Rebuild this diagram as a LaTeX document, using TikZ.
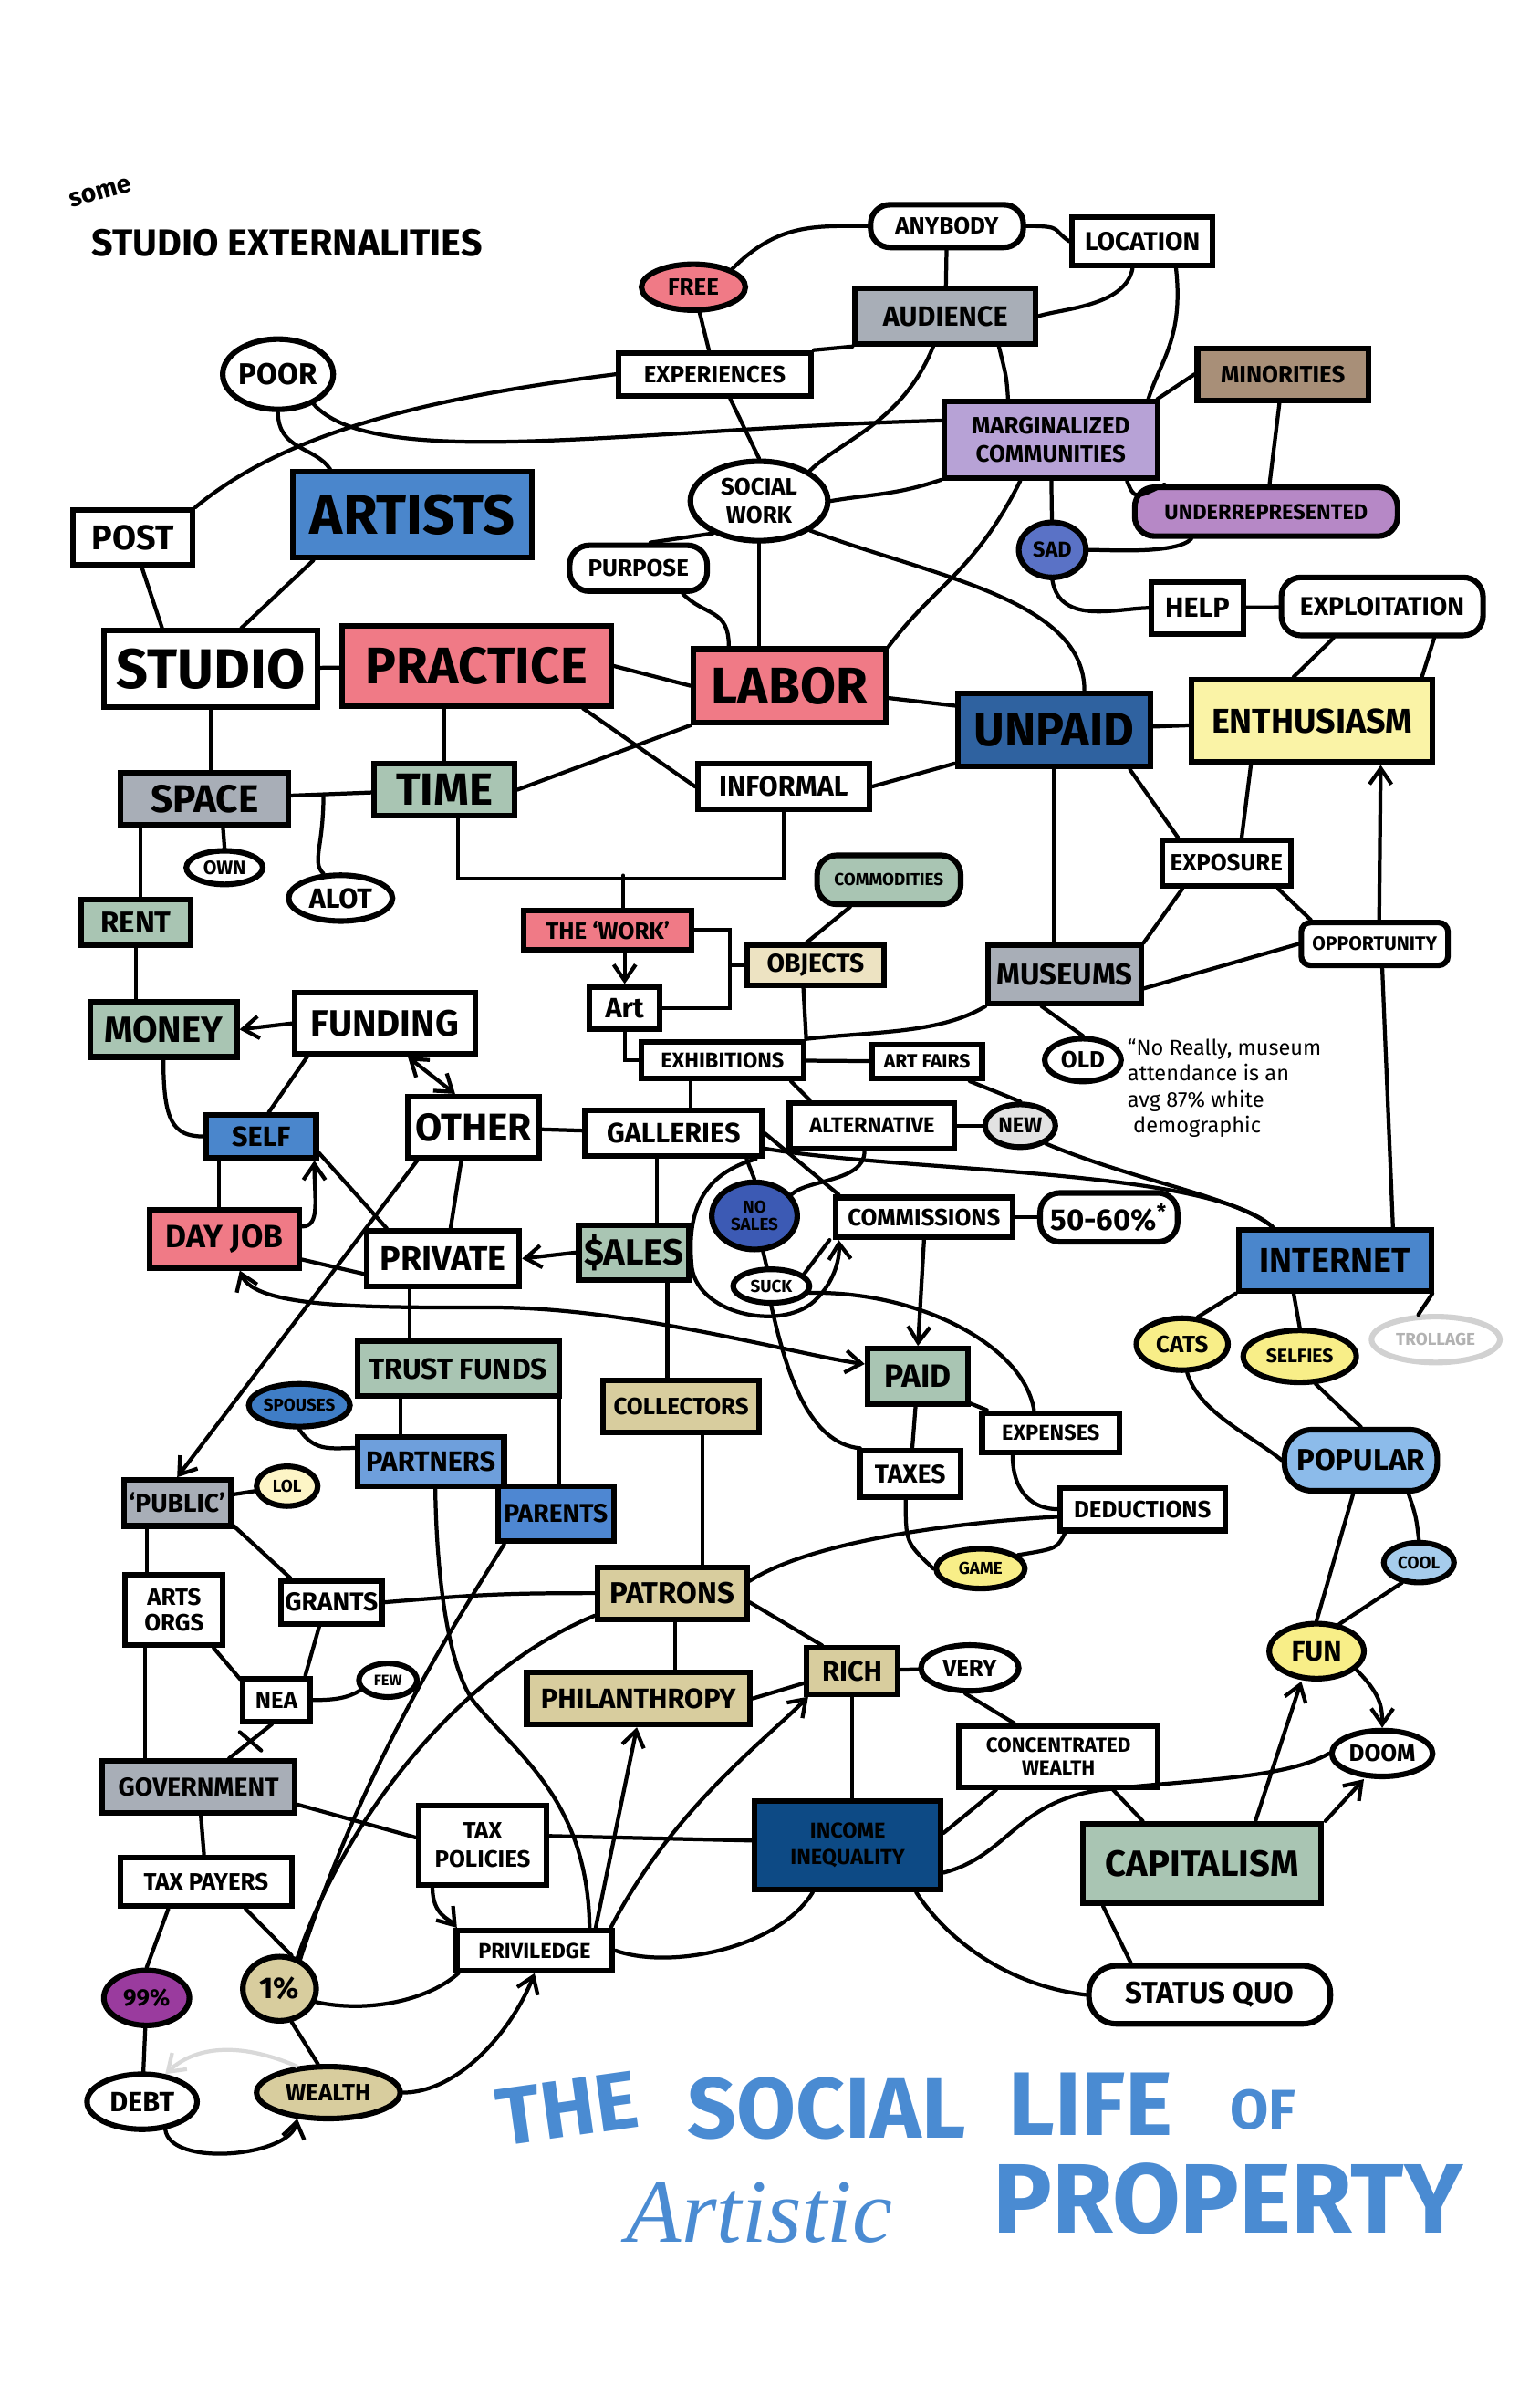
\documentclass[tikz,border=0pt]{standalone}
\usepackage{fontspec}
\setmainfont{Fira Sans}
\newfontfamily\handfont{Liberation Serif}
\usetikzlibrary{shapes.geometric, arrows.meta, calc}

\definecolor{redfill}{HTML}{F07A86}
\definecolor{artblue}{HTML}{4A86CC}
\definecolor{navy}{HTML}{2F62A0}
\definecolor{deepnavy}{HTML}{0D4A85}
\definecolor{greyfill}{HTML}{A8AEB7}
\definecolor{sage}{HTML}{A9C5B3}
\definecolor{tan}{HTML}{D8CD9E}
\definecolor{beige}{HTML}{EDE3C2}
\definecolor{enthus}{HTML}{FAF3A6}
\definecolor{yell}{HTML}{F8EE88}
\definecolor{lilac}{HTML}{B7A2D6}
\definecolor{mauve}{HTML}{B688C6}
\definecolor{brownfill}{HTML}{A88F78}
\definecolor{sadblue}{HTML}{5A72C6}
\definecolor{nosalesblue}{HTML}{3C5AB4}
\definecolor{spouseblue}{HTML}{3F7DC6}
\definecolor{partnerblue}{HTML}{6E9FDC}
\definecolor{parentblue}{HTML}{4E87D2}
\definecolor{popblue}{HTML}{8CBBEA}
\definecolor{coolblue}{HTML}{A6CCEC}
\definecolor{lolyellow}{HTML}{FDF5C6}
\definecolor{newgrey}{HTML}{E2E2E2}
\definecolor{purplefill}{HTML}{9A3B9E}
\definecolor{titleblue}{HTML}{4A8BD2}

\begin{document}
\begin{tikzpicture}[
        x=0.025cm, y=-0.025cm,
        box/.style={draw, rectangle, line width=2.6pt, align=center, inner sep=1pt},
        pill/.style={draw, rectangle, rounded corners=3.2mm, line width=2.6pt, align=center, inner sep=1pt},
        blob/.style={draw, ellipse, line width=2.6pt, align=center, inner sep=0pt},
        sz/.style 2 args={minimum width=#1*0.25mm, minimum height=#2*0.25mm},
        txt/.style={font=\fontsize{#1}{#1}\selectfont\bfseries},
        link/.style={line width=1.8pt, line cap=round},
        arrow/.style={link, -{Straight Barb[length=2.6mm, width=3.6mm]}},
        dblarrow/.style={link, {Straight Barb[length=2.6mm, width=3.6mm]}-{Straight Barb[length=2.6mm, width=3.6mm]}},
        heading/.style={text=titleblue, inner sep=0pt}
    ]
    \useasboundingbox (0,0) rectangle (1008,1568);

    % ===== heading =====
    \node (some) [txt=12, rotate=15, inner sep=0pt] at (66,126) {some};
    \node (subtitle) [txt=17.5, anchor=west, inner sep=0pt] at (60,159) {STUDIO EXTERNALITIES};

    % ===== top: audience =====
    \node (anybody) [pill, sz={100}{28}, txt=11] at (620,148) {ANYBODY};
    \node (location) [box, sz={92}{32}, txt=12] at (748,158) {LOCATION};
    \node (free) [blob, fill=redfill, sz={68}{30}, txt=11] at (454,188) {FREE};
    \node (audience) [box, fill=greyfill, sz={118}{36}, txt=13] at (619,207) {AUDIENCE};
    \node (experiences) [box, sz={126}{28}, txt=11] at (468,245) {EXPERIENCES};
    \node (minorities) [box, fill=brownfill, sz={112}{34}, txt=11] at (840,245) {MINORITIES};
    \node (poor) [blob, sz={68}{46}, txt=14] at (182,245) {POOR};
    \node (marginalized) [box, fill=lilac, sz={140}{50}, txt=11] at (688,288) {MARGINALIZED\\[2pt]COMMUNITIES};
    \node (socialwork) [blob, sz={90}{52}, txt=11] at (497,328) {SOCIAL\\[2pt]WORK};
    \node (artists) [box, fill=artblue, sz={156}{56}, txt=26] at (270,337) {ARTISTS};
    \node (post) [box, sz={78}{36}, txt=16] at (87,352) {POST};
    \node (underrep) [pill, fill=mauve, sz={172}{32}, txt=10] at (829,335) {UNDERREPRESENTED};
    \node (sad) [blob, fill=sadblue, sz={44}{36}, txt=10] at (689,360) {SAD};
    \node (purpose) [pill, sz={90}{30}, txt=11] at (418,372) {PURPOSE};
    \node (help) [box, sz={60}{34}, txt=13] at (784,398) {HELP};
    \node (exploitation) [pill, sz={132}{38}, txt=12] at (905,397) {EXPLOITATION};

    % ===== middle band =====
    \node (studio) [box, sz={140}{50}, txt=26] at (138,438) {STUDIO};
    \node (practice) [box, fill=redfill, sz={176}{52}, txt=24] at (312,436) {PRACTICE};
    \node (labor) [box, fill=redfill, sz={126}{48}, txt=24] at (517,449) {LABOR};
    \node (unpaid) [box, fill=navy, sz={126}{48}, txt=22] at (690,478) {UNPAID};
    \node (enthusiasm) [box, fill=enthus, sz={158}{54}, txt=16] at (859,472) {ENTHUSIASM};
    \node (space) [box, fill=greyfill, sz={110}{34}, txt=18] at (134,523) {SPACE};
    \node (time) [box, fill=sage, sz={92}{34}, txt=21] at (291,517) {TIME};
    \node (informal) [box, sz={112}{30}, txt=13] at (513,515) {INFORMAL};
    \node (own) [blob, sz={50}{22}, txt=9] at (147,568) {OWN};
    \node (alot) [blob, sz={68}{30}, txt=13] at (223,588) {ALOT};
    \node (exposure) [box, sz={84}{30}, txt=11] at (803,565) {EXPOSURE};
    \node (commodities) [pill, fill=sage, sz={94}{32}, txt=8] at (582,576) {COMMODITIES};
    \node (rent) [box, fill=sage, sz={72}{30}, txt=14] at (89,604) {RENT};
    \node (work) [box, fill=redfill, sz={110}{26}, txt=11] at (398,609) {THE `WORK'};
    \node (objects) [box, fill=beige, sz={90}{26}, txt=12] at (534,632) {OBJECTS};
    \node (opportunity) [box, rounded corners=1.5mm, sz={96}{28}, txt=9] at (900,618) {OPPORTUNITY};
    \node (museums) [box, fill=greyfill, sz={100}{38}, txt=14] at (697,638) {MUSEUMS};
    \node (art) [box, sz={46}{28}, txt=13] at (409,660) {Art};
    \node (money) [box, fill=sage, sz={96}{36}, txt=17] at (107,674) {MONEY};
    \node (funding) [box, sz={118}{40}, txt=17] at (252,670) {FUNDING};
    \node (exhibitions) [box, sz={106}{24}, txt=10] at (473,694) {EXHIBITIONS};
    \node (artfairs) [box, sz={72}{22}, txt=9] at (607,695) {ART FAIRS};
    \node (old) [blob, sz={50}{28}, txt=11] at (709,694) {OLD};
    \node (note) [anchor=north west, align=left, font=\fontsize{10}{12}\selectfont, inner sep=0pt] at (738,680)
        {``No Really, museum\\attendance is an\\avg 87\% white\\\ demographic};

    % ===== funding and sales =====
    \node (self) [box, fill=artblue, sz={72}{28}, txt=13] at (171,744) {SELF};
    \node (other) [box, sz={86}{40}, txt=18] at (310,738) {OTHER};
    \node (galleries) [box, sz={116}{30}, txt=13] at (441,742) {GALLERIES};
    \node (alternative) [box, sz={108}{30}, txt=10] at (571,737) {ALTERNATIVE};
    \node (new) [blob, fill=newgrey, sz={46}{28}, txt=10] at (668,737) {NEW};
    \node (dayjob) [box, fill=redfill, sz={98}{38}, txt=15] at (147,811) {DAY JOB};
    \node (nosales) [blob, fill=nosalesblue, sz={56}{44}, txt=8] at (494,796) {NO\\SALES};
    \node (commissions) [box, sz={116}{26}, txt=11] at (605,797) {COMMISSIONS};
    \node (fifty) [pill, sz={90}{32}, txt=14] at (726,797) {50-60\%\textsuperscript{*}};
    \node (private) [box, sz={100}{36}, txt=16] at (290,824) {PRIVATE};
    \node (sales) [box, fill=sage, sz={72}{36}, txt=17] at (415,820) {\$ALES};
    \node (suck) [blob, sz={50}{22}, txt=8] at (505,842) {SUCK};
    \node (internet) [box, fill=artblue, sz={126}{40}, txt=16] at (874,825) {INTERNET};
    \node (cats) [blob, fill=yell, sz={60}{34}, txt=11] at (774,880) {CATS};
    \node (selfies) [blob, fill=yell, sz={74}{34}, txt=9] at (851,888) {SELFIES};
    \node (trollage) [blob, draw=black!18, text=black!30, sz={84}{30}, txt=8] at (940,877) {TROLLAGE};
    \node (trustfunds) [box, fill=sage, sz={132}{36}, txt=13.5] at (300,896) {TRUST FUNDS};
    \node (paid) [box, fill=sage, sz={66}{36}, txt=15] at (601,901) {PAID};
    \node (spouses) [blob, fill=spouseblue, sz={64}{28}, txt=8] at (196,920) {SPOUSES};
    \node (collectors) [box, fill=tan, sz={102}{34}, txt=11] at (446,921) {COLLECTORS};
    \node (expenses) [box, sz={90}{26}, txt=10] at (688,938) {EXPENSES};
    \node (partners) [box, fill=partnerblue, sz={96}{32}, txt=13] at (282,957) {PARTNERS};
    \node (popular) [pill, rounded corners=4.5mm, fill=popblue, sz={100}{40}, txt=14] at (891,956) {POPULAR};
    \node (taxes) [box, sz={66}{30}, txt=12] at (596,965) {TAXES};
    \node (public) [box, fill=greyfill, sz={70}{30}, txt=12] at (116,984) {`PUBLIC'};
    \node (lol) [blob, fill=lolyellow, sz={40}{26}, txt=8] at (188,973) {LOL};
    \node (parents) [box, fill=parentblue, sz={76}{36}, txt=12] at (364,991) {PARENTS};
    \node (deductions) [box, sz={108}{28}, txt=11] at (748,988) {DEDUCTIONS};
    \node (cool) [blob, fill=coolblue, sz={46}{26}, txt=8] at (929,1023) {COOL};
    \node (game) [blob, fill=yell, sz={58}{26}, txt=8] at (642,1027) {GAME};

    % ===== money flows =====
    \node (patrons) [box, fill=tan, sz={98}{34}, txt=14] at (440,1043) {PATRONS};
    \node (grants) [box, sz={66}{28}, txt=12] at (217,1049) {GRANTS};
    \node (artsorgs) [box, sz={64}{46}, txt=11] at (114,1054) {ARTS\\[1pt]ORGS};
    \node (fun) [blob, fill=yell, sz={62}{36}, txt=13] at (862,1081) {FUN};
    \node (rich) [box, fill=tan, sz={60}{30}, txt=13] at (558,1094) {RICH};
    \node (very) [blob, sz={64}{30}, txt=11] at (635,1092) {VERY};
    \node (nea) [box, sz={44}{28}, txt=11] at (181,1113) {NEA};
    \node (few) [blob, sz={38}{22}, txt=7] at (254,1100) {FEW};
    \node (philanthropy) [box, fill=tan, sz={146}{34}, txt=13] at (418,1112) {PHILANTHROPY};
    \node (doom) [blob, sz={66}{30}, txt=11] at (905,1148) {DOOM};
    \node (concentrated) [box, sz={130}{40}, txt=9.5] at (693,1150) {CONCENTRATED\\[1pt]WEALTH};
    \node (government) [box, fill=greyfill, sz={126}{34}, txt=12] at (130,1170) {GOVERNMENT};
    \node (taxpolicies) [box, sz={84}{52}, txt=11] at (316,1208) {TAX\\[2pt]POLICIES};
    \node (income) [box, fill=deepnavy, sz={122}{58}, txt=10] at (555,1208) {INCOME\\[2pt]INEQUALITY};
    \node (capitalism) [box, fill=sage, sz={156}{52}, txt=17] at (787,1220) {CAPITALISM};
    \node (taxpayers) [box, sz={112}{32}, txt=11] at (135,1232) {TAX PAYERS};
    \node (privilege) [box, sz={102}{26}, txt=10] at (350,1277) {PRIVILEDGE};
    \node (ninetynine) [blob, fill=purplefill, sz={56}{36}, txt=11] at (96,1308) {99\%};
    \node (onepct) [blob, fill=tan, sz={48}{42}, txt=14] at (183,1302) {1\%};
    \node (statusquo) [pill, rounded corners=4.5mm, sz={158}{38}, txt=14] at (792,1306) {STATUS QUO};
    \node (debt) [blob, sz={72}{36}, txt=13] at (93,1376) {DEBT};
    \node (wealth) [blob, fill=tan, sz={94}{34}, txt=11] at (215,1370) {WEALTH};

    % ===== title =====
    \node (ttlthe) [heading, anchor=base west, rotate=8, font=\fontsize{38}{38}\selectfont\bfseries] at (328,1405) {THE};
    \node (ttlsocial) [heading, anchor=base west, font=\fontsize{40}{40}\selectfont\bfseries] at (450,1400) {SOCIAL};
    \node (ttllife) [heading, anchor=base west, font=\fontsize{42}{42}\selectfont\bfseries] at (660,1398) {LIFE};
    \node (ttlof) [heading, anchor=base west, font=\fontsize{26}{26}\selectfont\bfseries] at (805,1394) {OF};
    \node (ttlartistic) [heading, anchor=base west, font=\fontsize{42}{42}\selectfont\handfont\itshape] at (410,1468) {Artistic};
    \node (ttlproperty) [heading, anchor=base west, font=\fontsize{46}{46}\selectfont\bfseries] at (650,1462) {PROPERTY};

    % ===== helper points =====
    \coordinate (wj) at (478,609);
    \coordinate (tl) at (300,575);
    \coordinate (st) at ($(space.east)!0.4!(time.west)$);
    \coordinate (sr) at ($(space.south west)+(15,0)$);
    \coordinate (ss) at ($(self.south west)+(10,0)$);
    \coordinate (ge) at ($(galleries.north)+(11,0)$);
    \coordinate (gs) at ($(galleries.south)+(-11,0)$);
    \coordinate (sc) at ($(sales.south)+(22,0)$);
    \coordinate (pt) at ($(private.south)+(-22,0)$);
    \coordinate (tp) at ($(trustfunds.south)+(-38,0)$);
    \coordinate (tq) at ($(trustfunds.south east)+(-2,0)$);
    \coordinate (cp) at ($(collectors.south)+(14,0)$);
    \coordinate (pp) at ($(patrons.south)+(2,0)$);
    \coordinate (ga) at ($(government.north west)+(30,0)$);
    \coordinate (pa) at ($(public.south west)+(17,0)$);
    \coordinate (gn1) at ($(government.north)+(20,0)$);
    \coordinate (gn2) at ($(nea.south)+(-3,0)$);

    % ===== connectors: top =====
    \draw [link] (free.north east) .. controls +(30,-30) and +(-35,0) .. (anybody.west);
    \draw [link] (free) -- (experiences);
    \draw [link] (anybody) -- (audience);
    \draw [link] (anybody.east) .. controls +(25,0) and +(-12,-8) .. (location.west);
    \draw [link] (location.250) .. controls +(-5,25) and +(15,-5) .. (audience.east);
    \draw [link] ($(location.south)+(22,0)$) .. controls +(5,45) and +(8,-25) .. ($(marginalized.north east)+(-8,0)$);
    \draw [link] (audience.south west) -- (experiences.north east);
    \draw [link] ($(audience.south)+(35,0)$) .. controls +(5,20) .. ($(marginalized.north)+(-28,0)$);
    \draw [link] ($(audience.south)+(-8,0)$) .. controls +(-20,50) and +(20,-20) .. (socialwork.north east);
    \draw [link] ($(experiences.south)+(10,0)$) -- (socialwork.north);
    \draw [link] (experiences.west) .. controls +(-120,15) and +(60,-50) .. (post.north east);
    \draw [link] (poor.-40) .. controls +(40,45) and +(-200,5) .. (marginalized.170);
    \draw [link] (poor.south) .. controls +(0,25) and +(-10,-15) .. ($(artists.north west)+(26,0)$);
    \draw [link] (socialwork.east) .. controls +(30,-5) and +(-30,10) .. (marginalized.200);
    \draw [link] (socialwork.south) -- (socialwork.south |- labor.north);
    \draw [link] (socialwork.-30) .. controls +(80,30) and +(0,-60) .. ($(unpaid.north)+(20,0)$);
    \draw [link] ($(marginalized.south)+(-20,0)$) .. controls +(-30,60) and +(30,-40) .. (labor.north east);
    \draw [link] (marginalized) -- (sad);
    \draw [link] ($(marginalized.south east)+(-22,0)$) .. controls +(5,12) .. (underrep.165);
    \draw [link] (minorities.west) -- ($(marginalized.north east)+(-2,0)$);
    \draw [link] (minorities) -- (underrep);
    \draw [link] (sad.east) .. controls +(15,0) and +(-10,10) .. (underrep.200);
    \draw [link] (sad.south) .. controls +(5,30) and +(-20,0) .. (help.west);
    \draw [link] (help) -- (exploitation);
    \draw [link] ($(exploitation.south)+(-32,0)$) -- ($(enthusiasm.north)+(-12,0)$);
    \draw [link] ($(exploitation.south)+(34,0)$) -- ($(enthusiasm.north)+(72,0)$);
    \draw [link] (purpose.-30) .. controls +(15,15) and +(0,-25) .. ($(labor.north west)+(25,0)$);
    \draw [link] (purpose.65) -- (socialwork.215);

    % ===== connectors: studio and practice =====
    \draw [link] ($(artists.south west)+(15,0)$) -- ($(studio.north)+(20,0)$);
    \draw [link] ($(post.south)+(6,0)$) -- ($(studio.north west)+(40,0)$);
    \draw [link] (studio) -- (practice);
    \draw [link] (practice.east) -- (labor.west);
    \draw [link] ($(practice.south east)+(-20,0)$) -- (informal.west);
    \draw [link] (labor.south west) -- (time.east);
    \draw [link] (practice.south -| time.north) -- (time.north);
    \draw [link] (studio.south) -- (studio.south |- space.north);
    \draw [link] (space) -- (time);
    \draw [link] ($(labor.east)+(0,8)$) -- ($(unpaid.west)+(0,-16)$);
    \draw [link] (informal.east) -- ($(unpaid.south west)+(0,-4)$);
    \draw [link] (unpaid) -- (enthusiasm);
    \draw [link] (unpaid.south) -- (unpaid.south |- museums.north);
    \draw [link] ($(unpaid.south east)+(-15,0)$) -- ($(exposure.north west)+(12,0)$);
    \draw [link] ($(enthusiasm.south)+(-40,0)$) -- ($(exposure.north)+(10,0)$);
    \draw [arrow] ($(opportunity.north)+(3,0)$) -- ($(enthusiasm.south)+(45,0)$);
    \draw [link] ($(opportunity.south)+(5,0)$) -- ($(internet.north)+(38,0)$);
    \draw [link] ($(exposure.south west)+(15,0)$) -- (museums.north east);
    \draw [link] ($(exposure.south east)+(-10,0)$) -- ($(opportunity.north west)+(8,0)$);
    \draw [link] (opportunity.west) -- (museums.-10);
    \draw [link] ($(museums.south)+(-15,0)$) -- (old.north);
    \draw [link] (museums.south west) .. controls +(-30,18) and +(45,-5) .. (exhibitions.north east);
    \draw [link] (commodities.215) -- ($(objects.north)+(-6,0)$);
    \draw [link] ($(objects.south)+(-8,0)$) -- (exhibitions.north east);

    % the work
    \draw [link] (work.east) -- (wj) |- (art.east);
    \draw [link] (objects.west) -- (objects.west -| wj);
    \draw [arrow] (work.south -| art.north) -- (art.north);
    \draw [link] (time.south -| tl) -- (tl) -| (informal.south);
    \draw [link] ($(work.north)+(10,0)$) -- ($(work.north)+(10,-21)$);

    % space
    \draw [link] (sr) -- (sr |- rent.north);
    \draw [link] ($(space.south)+(12,0)$) -- (own.north);
    \draw [link] (st) .. controls +(0,35) and +(-8,-8) .. (alot.125);
    \draw [link] (rent.south) -- (rent.south |- money.north);

    % ===== connectors: funding =====
    \draw [arrow] (funding.west) -- (money.east);
    \draw [dblarrow] ($(funding.south)+(15,0)$) -- ($(other.north)+(-12,0)$);
    \draw [link] ($(funding.south west)+(10,0)$) -- ($(self.north)+(5,0)$);
    \draw [link] (money.south) .. controls +(0,40) and +(-20,0) .. (self.west);
    \draw [link] (ss) -- (ss |- dayjob.north);
    \draw [arrow] ($(dayjob.east)+(0,-8)$) .. controls +(12,0) and +(0,25) .. ($(self.south east)+(-3,0)$);
    \draw [link] ($(self.south east)+(0,-5)$) -- ($(private.north west)+(15,0)$);
    \draw [link] ($(other.south)+(-8,0)$) -- ($(private.north)+(5,0)$);
    \draw [arrow] ($(other.south west)+(8,0)$) -- (public.north);
    \draw [link] (other) -- (galleries);
    \draw [link] (dayjob.-15) -- ($(private.west)+(0,10)$);
    \draw [dblarrow] ($(dayjob.south)+(10,0)$) .. controls +(10,25) and +(-80,0) .. (324,856)
        .. controls +(90,0) and +(-40,-5) .. ($(paid.west)+(0,-8)$);

    % ===== connectors: galleries =====
    \draw [link] (ge) -- (ge |- exhibitions.south);
    \draw [link] (art.south) |- (exhibitions.west);
    \draw [link] (exhibitions) -- (artfairs);
    \draw [link] ($(exhibitions.south east)+(-10,0)$) -- ($(alternative.north west)+(15,0)$);
    \draw [link] ($(artfairs.south east)+(-10,0)$) -- (new.north);
    \draw [link] (alternative) -- (new);
    \draw [link] (gs) -- (gs |- sales.north);
    \draw [link] ($(galleries.south east)+(-12,0)$) -- (nosales.north);
    \draw [link] ($(alternative.south)+(-5,0)$) .. controls +(0,20) and +(10,-10) .. (nosales.30);
    \draw [link] (galleries.east) -- ($(commissions.north west)+(4,0)$);
    \draw [link] ($(galleries.east)+(0,10)$) .. controls (600,768) and (790,765) .. ($(internet.north west)+(24,0)$);
    \draw [link] (new.-35) .. controls +(60,25) and +(-25,-20) .. ($(internet.north west)+(24,0)$);
    \draw [arrow] ($(galleries.south east)+(-6,0)$) .. controls (455,770) and (450,800) .. (453,830)
        .. controls (458,862) and (515,872) .. (535,850)
        .. controls (545,840) and (550,826) .. ($(commissions.south west)+(4,0)$);
    \draw [link] (nosales) -- (suck);
    \draw [link] (suck.20) -- ($(commissions.south west)+(-2,0)$);
    \draw [link] (suck.-10) .. controls (600,845) and (670,880) .. ($(expenses.north)+(-11,0)$);
    \draw [link] (suck.south) .. controls (515,900) and (530,945) .. ($(taxes.north west)+(2,0)$);
    \draw [arrow] (commissions.south) -- (paid.north);
    \draw [link] (commissions) -- (fifty);
    \draw [arrow] (sales.west) -- (private.east);
    \draw [link] (sc) -- (sc |- collectors.north);
    \draw [link] ($(paid.south east)+(-3,-3)$) -- ($(expenses.north west)+(5,0)$);
    \draw [link] (paid) -- (taxes);
    \draw [link] ($(expenses.south)+(-25,0)$) .. controls +(0,25) and +(-15,0) .. (deductions.west);
    \draw [link] ($(taxes.south)+(-3,0)$) .. controls +(0,28) .. (game.west);
    \draw [link] ($(deductions.south west)+(5,0)$) .. controls +(-5,10) .. (game.20);
    \draw [link] ($(deductions.west)+(0,5)$) .. controls (620,997) and (530,1010) .. ($(patrons.east)+(0,-8)$);

    % ===== connectors: internet =====
    \draw [link] (internet.south west) -- (cats.60);
    \draw [link] ($(internet.south)+(-27,0)$) -- (selfies.north);
    \draw [link] ($(internet.south east)+(-1,0)$) -- (trollage.125);
    \draw [link] (cats.-80) .. controls (785,925) and (820,940) .. (popular.west);
    \draw [link] (selfies.-60) -- (popular.north);
    \draw [link] ($(popular.south)+(-5,0)$) -- (fun.north);
    \draw [link] (popular.-35) .. controls +(5,15) .. (cool.north);
    \draw [link] (cool.230) -- (fun.50);
    \draw [arrow] (fun.-25) .. controls +(15,15) and +(0,-15) .. (doom.north);
    \draw [arrow] ($(capitalism.north)+(35,0)$) -- ($(fun.south)+(-10,0)$);
    \draw [arrow] ($(capitalism.north east)+(1,0)$) -- ($(doom.south)+(-12,0)$);

    % ===== connectors: private =====
    \draw [link] (pt) -- (pt |- trustfunds.north);
    \draw [link] (tp) -- (tp |- partners.north);
    \draw [link] (tq) -- (tq |- parents.north);
    \draw [link] (spouses.south) .. controls +(10,15) and +(-15,0) .. ($(partners.west)+(0,-9)$);
    \draw [link] ($(partners.south)+(3,0)$) .. controls (286,1040) and (295,1095) .. (311,1115)
        .. controls (340,1150) and (385,1180) .. ($(privilege.north)+(36,0)$);
    \draw [link] ($(parents.south west)+(6,0)$) .. controls (300,1060) and (240,1150) .. (onepct.55);
    \draw [link] (cp) -- (cp |- patrons.north);
    \draw [link] (pp) -- (pp |- philanthropy.north);
    \draw [link] ($(patrons.east)+(0,6)$) -- ($(rich.north west)+(12,0)$);
    \draw [link] (philanthropy.east) -- ($(rich.west)+(0,8)$);
    \draw [link] ($(patrons.south west)+(0,-4)$) .. controls (310,1090) and (230,1180) .. (onepct.60);
    \draw [link] (grants.east) .. controls +(60,-5) and +(-60,0) .. (patrons.west);

    % ===== connectors: public =====
    \draw [link] (public) -- (lol);
    \draw [link] (pa) -- (pa |- artsorgs.north);
    \draw [link] ($(public.south east)+(0,-2)$) -- ($(grants.north west)+(8,0)$);
    \draw [link] ($(artsorgs.south east)+(-8,0)$) -- (nea.150);
    \draw [link] ($(grants.south)+(-8,0)$) -- ($(nea.north east)+(-5,0)$);
    \draw [link] (nea.east) .. controls +(15,0) and +(-8,5) .. (few.200);
    \draw [link] (ga) -- (ga |- artsorgs.south);
    \draw [link] (gn1) -- (gn2);
    \draw [link] ($(gn1)!0.5!(gn2)+(-7,-6)$) -- ($(gn1)!0.5!(gn2)+(7,6)$);
    \draw [link] (government.-10) -- ($(taxpolicies.west)+(0,-5)$);
    \draw [link] (government) -- (taxpayers);
    \draw [link] ($(taxpayers.south west)+(33,0)$) -- (ninetynine.north);
    \draw [link] ($(taxpayers.south east)+(-32,0)$) -- (onepct.70);

    % ===== connectors: wealth =====
    \draw [link] ($(taxpolicies.east)+(0,-6)$) -- ($(income.west)+(0,-3)$);
    \draw [arrow] ($(taxpolicies.south west)+(11,0)$) .. controls +(0,18) and +(-5,-6) .. ($(privilege.north west)+(2,0)$);
    \draw [arrow] ($(privilege.north)+(40,0)$) -- ($(philanthropy.south)+(-1,0)$);
    \draw [arrow] ($(privilege.north east)+(-3,0)$) .. controls (440,1185) and (500,1140) .. ($(rich.south west)+(3,0)$);
    \draw [link] (privilege.east) .. controls (440,1290) and (510,1275) .. ($(income.south west)+(40,0)$);
    \draw [link] (onepct.-20) .. controls (240,1318) and (280,1310) .. ($(privilege.south west)+(3,0)$);
    \draw [arrow] (wealth.east) .. controls (300,1370) and (335,1330) .. (privilege.south);
    \draw [link] (onepct.-70) -- (wealth.110);
    \draw [link] (ninetynine) -- (debt);
    \draw [arrow] (debt.-50) .. controls +(3,25) and +(-5,25) .. (wealth.-140);
    \draw [line width=1.8pt, draw=black!15, -{Straight Barb[length=2.6mm, width=3.6mm]}] (wealth.140) .. controls (160,1338) and (130,1338) .. (debt.50);
    \draw [link] (rich) -- (very);
    \draw [link] (very.-100) -- ($(concentrated.north)+(-29,0)$);
    \draw [link] (rich.south) -- (rich.south |- income.north);
    \draw [link] ($(concentrated.south west)+(26,0)$) -- ($(income.east)+(0,-8)$);
    \draw [link] ($(concentrated.south east)+(-31,0)$) -- ($(capitalism.north west)+(41,0)$);
    \draw [link] ($(income.east)+(0,18)$) .. controls (660,1215) and (665,1180) .. (720,1172)
        .. controls (780,1165) and (840,1165) .. (doom.west);
    \draw [link] ($(capitalism.south west)+(15,0)$) -- (statusquo.158);
    \draw [link] ($(income.south east)+(-18,0)$) .. controls (620,1270) and (660,1300) .. (statusquo.west);
\end{tikzpicture}
\end{document}
